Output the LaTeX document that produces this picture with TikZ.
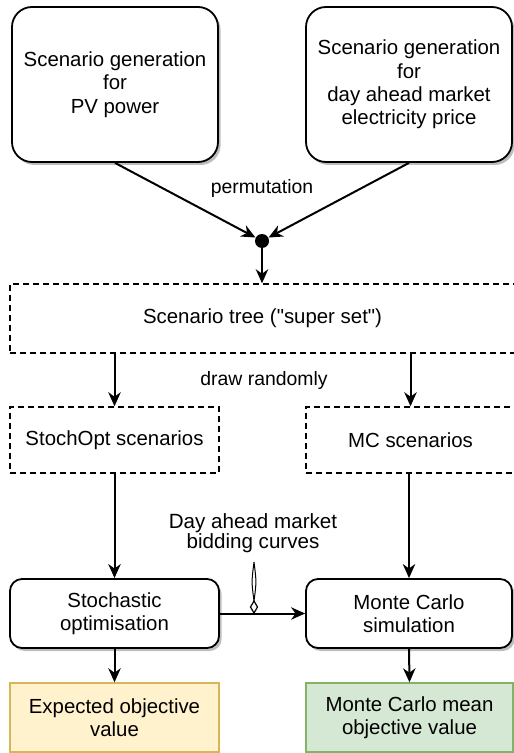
\documentclass[tikz,border=0pt]{standalone}
\usepackage{fontspec}
\setmainfont{Liberation Sans}[Ligatures=TeXOff]
\usetikzlibrary{arrows.meta,shadows,calc}

\definecolor{noteFill}{HTML}{FFF2CC}
\definecolor{noteLine}{HTML}{D6B656}
\definecolor{okFill}{HTML}{D5E8D4}
\definecolor{okLine}{HTML}{82B366}
\definecolor{shadowGrey}{HTML}{BDBDBD}

\tikzset{
  boxtext/.style={font=\fontsize{10.2pt}{11.7pt}\selectfont, align=center, text=black},
  labeltext/.style={font=\fontsize{9.7pt}{10.6pt}\selectfont, align=center, text=black},
  biglabel/.style={font=\fontsize{10.3pt}{10.2pt}\selectfont, align=center, text=black},
  procbox/.style={boxtext, draw=black, line width=0.9pt, fill=white,
    rounded corners=#1, inner sep=0pt,
    drop shadow={shadow xshift=1.3pt, shadow yshift=-1.5pt, fill=shadowGrey, opacity=1}},
  setbox/.style={boxtext, draw=black, line width=0.7pt, dash pattern=on 3pt off 2pt,
    fill=white, inner sep=0pt},
  resultbox/.style={boxtext, line width=0.7pt, inner sep=0pt},
  flow/.style={draw=black, line width=1pt,
    -{Stealth[length=7pt, width=6.2pt, inset=2.2pt]}},
}

\begin{document}
\begin{tikzpicture}[x=0.5pt, y=-0.5pt]
  \useasboundingbox (0,0) rectangle (513,753);

  % source generators
  \node[procbox=10pt, minimum width=103pt, minimum height=77.5pt] (pv) at (115,84.5)
    {Scenario generation\\for\\PV power};
  \node[procbox=10pt, minimum width=103pt, minimum height=77.5pt] (price) at (409,84.5)
    {Scenario generation\\for\\day ahead market\\electricity price};

  % combination point
  \node[circle, fill=black, inner sep=0pt, minimum size=7pt] (join) at (262,241) {};
  \node[labeltext] (perm) at (262,188) {permutation};

  % scenario sets
  \node[setbox, minimum width=252.5pt, minimum height=34.5pt] (tree) at (262.5,318.5)
    {Scenario tree ("super set")};
  \node[labeltext] (draw) at (264,380) {draw randomly};
  \node[setbox, minimum width=104.5pt, minimum height=33pt] (stochsc) at (114.5,440)
    {StochOpt scenarios};
  \node[setbox, minimum width=104.5pt, minimum height=33pt] (mcsc) at (410.5,440)
    {MC scenarios};

  % computations
  \node[procbox=6pt, minimum width=104.5pt, minimum height=34.5pt] (stoch) at (114.5,613.5)
    {Stochastic\\optimisation};
  \node[procbox=6pt, minimum width=103pt, minimum height=34.5pt] (mcsim) at (409,613.5)
    {Monte Carlo\\simulation};
  \node[biglabel] (bid) at (253,533) {Day ahead market\\bidding curves};

  % results
  \node[resultbox, draw=noteLine, fill=noteFill, minimum width=104.5pt, minimum height=34.5pt]
    (expected) at (114.5,717.5) {Expected objective\\value};
  \node[resultbox, draw=okLine, fill=okFill, minimum width=103.5pt, minimum height=34.5pt]
    (mcmean) at (409.5,717.5) {Monte Carlo mean\\objective value};

  % connectors
  \draw[flow] (pv.south) -- (join);
  \draw[flow] (price.south) -- (join);
  \draw[flow] (join) -- (join |- tree.north);
  \draw[flow] (stochsc.north |- tree.south) -- (stochsc.north);
  \draw[flow] (mcsc.north |- tree.south) -- (mcsc.north);
  \draw[flow] (stochsc.south) -- (stoch.north);
  \draw[flow] (mcsc.south -| mcsim.north) -- (mcsim.north);
  \draw[flow] (stoch.east) -- (mcsim.west);
  \draw[flow] (stoch.south) -- (expected.north);
  \draw[flow] (mcsim.south) -- (mcmean.north);

  % label pointer onto the bidding-curve edge
  \coordinate (ptrTop) at (254,562);
  \coordinate (ptrBase) at (254,601);
  \coordinate (ptrTip) at (254,613);
  \draw[line width=0.5pt, fill=white] (ptrTop) .. controls (256.5,582) .. (ptrBase)
    .. controls (251.5,582) .. (ptrTop);
  \draw[line width=0.6pt, fill=white] (ptrBase) -- ($(ptrBase)!0.5!(ptrTip)+(3.5,0)$)
    -- (ptrTip) -- ($(ptrBase)!0.5!(ptrTip)+(-3.5,0)$) -- cycle;
\end{tikzpicture}
\end{document}
